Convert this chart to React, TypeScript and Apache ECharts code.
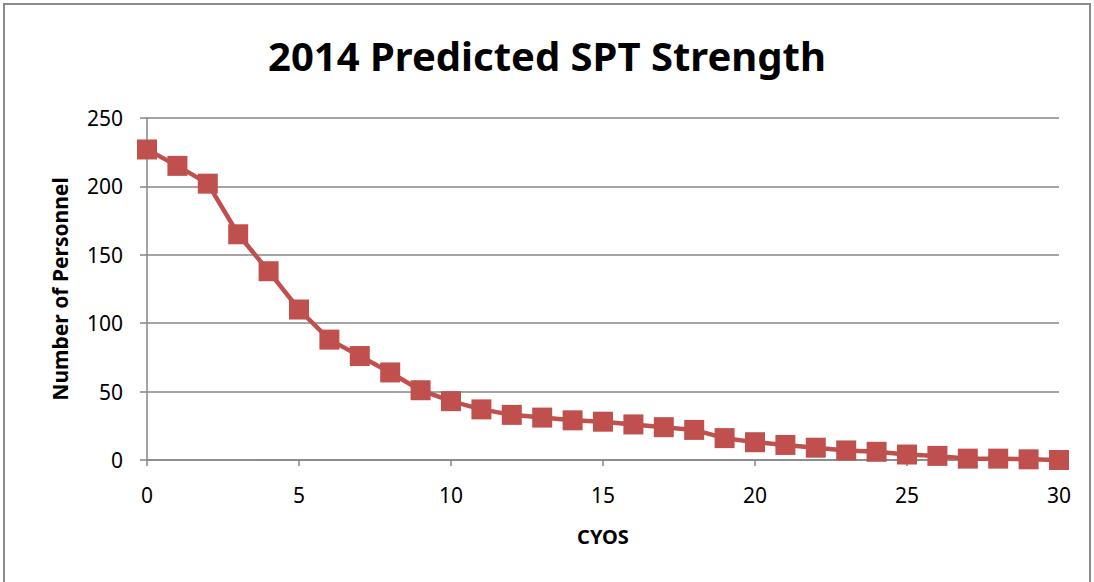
import React, { useEffect, useRef } from "react";
import * as echarts from "echarts";

const titleText = "2014 Predicted SPT Strength";
const xAxisName = "CYOS";
const yAxisName = "Number of Personnel";
const cyos = [0,1,2,3,4,5,6,7,8,9,10,11,12,13,14,15,16,17,18,19,20,21,22,23,24,25,26,27,28,29,30];
const personnel = [227,215,202,165,138,110,88,76,64,51,43,37,33,31,29,28,26,24,22,16,13,11,9,7,6,4,3,1,1,0.5,0];

export default function App() {
  const ref = useRef<HTMLDivElement>(null);
  useEffect(() => {
    if (!ref.current) return;
    const chart = echarts.init(ref.current, null, { renderer: "svg" });
    const font = "'Noto Sans', sans-serif";
    chart.setOption({
      animation: false,
      backgroundColor: "#ffffff",
      title: {
        text: titleText,
        left: "center",
        top: 30,
        textStyle: { fontFamily: font, fontSize: 40, fontWeight: "bold", color: "#000" },
      },
      graphic: [
        {
          type: "rect",
          shape: { x: 4, y: 4, width: 1086, height: 620 },
          style: { fill: "none", stroke: "#8c8c8c", lineWidth: 2 },
          silent: true,
        },
      ],
      grid: { left: 147, right: 35, top: 118, bottom: 122 },
      xAxis: {
        type: "value",
        min: 0,
        max: 30,
        interval: 5,
        name: xAxisName,
        nameLocation: "middle",
        nameGap: 66,
        nameTextStyle: { fontFamily: font, fontSize: 20, fontWeight: "bold", color: "#000" },
        axisLine: { show: true, lineStyle: { color: "#868686", width: 1.5 } },
        axisTick: { show: true, length: 6, lineStyle: { color: "#868686", width: 1.5 } },
        axisLabel: { fontFamily: font, fontSize: 21, color: "#000", margin: 24 },
        splitLine: { show: false },
      },
      yAxis: {
        type: "value",
        min: 0,
        max: 250,
        interval: 50,
        name: yAxisName,
        nameLocation: "middle",
        nameGap: 77,
        nameTextStyle: { fontFamily: font, fontSize: 21, fontWeight: "bold", color: "#000" },
        axisLine: { show: true, lineStyle: { color: "#868686", width: 1.5 } },
        axisTick: { show: true, length: 7, lineStyle: { color: "#868686", width: 1.5 } },
        axisLabel: { fontFamily: font, fontSize: 21, color: "#000", margin: 24 },
        splitLine: { show: true, lineStyle: { color: "#868686", width: 1.5 } },
      },
      series: [
        {
          type: "line",
          data: cyos.map((c, i) => [c, personnel[i]]),
          symbol: "rect",
          symbolSize: 20,
          lineStyle: { color: "#c0504d", width: 4.5 },
          itemStyle: { color: "#c0504d" },
        },
      ],
    });
    return () => chart.dispose();
  }, []);
  return (
    <div
      ref={ref}
      style={{ position: "fixed", left: 0, top: 0, width: 1094, height: 582 }}
    />
  );
}
